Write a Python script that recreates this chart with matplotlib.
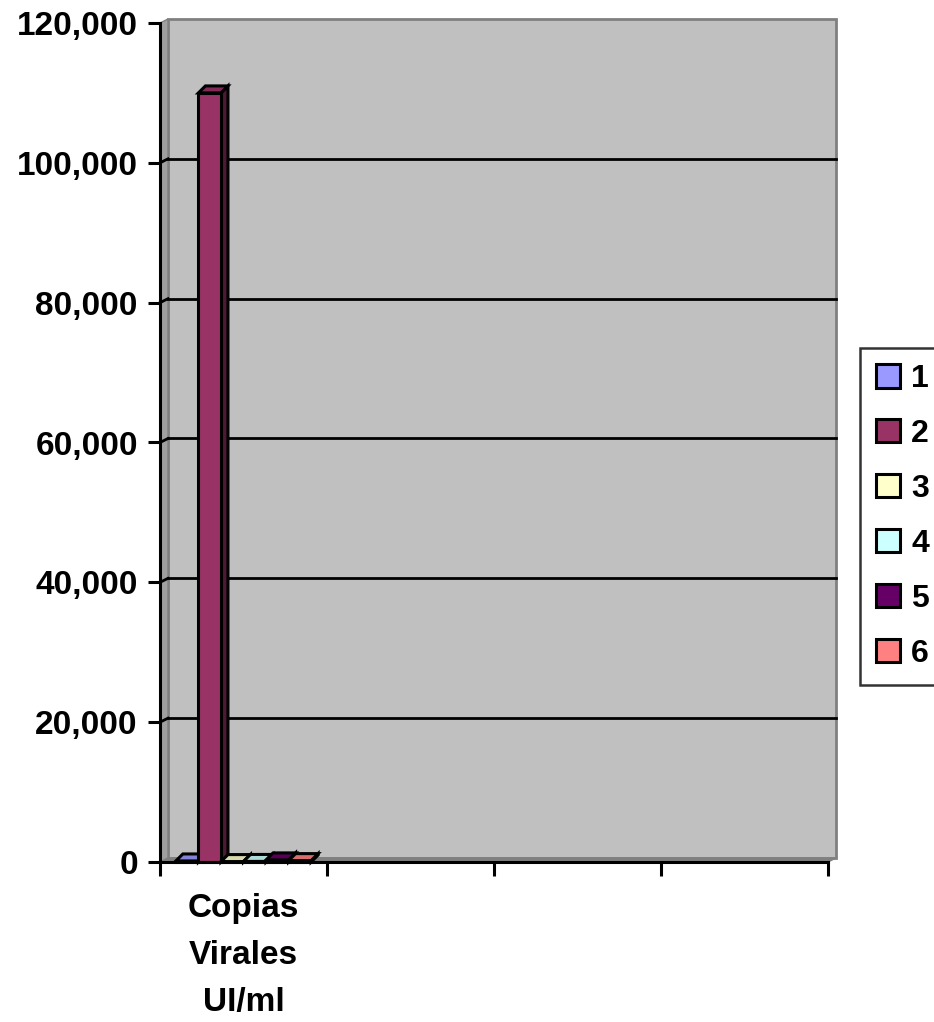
import numpy as np
import matplotlib
matplotlib.use("Agg")
import matplotlib.pyplot as plt
from matplotlib.patches import Polygon, Patch
from matplotlib.ticker import FuncFormatter

plt.rcParams['font.family'] = ['Liberation Sans', 'DejaVu Sans']
plt.rcParams['font.weight'] = 'bold'

# datos
categorias = ["Copias\nVirales\nUI/ml", "", "", ""]
series = ["1", "2", "3", "4", "5", "6"]
valores = [150, 110000, 60, 80, 300, 200]
colores = ["#9999FF", "#993366", "#FFFFCC", "#CCFFFF", "#660066", "#FF8080"]
yticks = [0, 20000, 40000, 60000, 80000, 100000, 120000]

def oscurecer(c, f):
    r, g, b = matplotlib.colors.to_rgb(c)
    return (r * f, g * f, b * f)

fig = plt.figure(figsize=(9.34, 10.22), dpi=100)
ax = fig.add_axes([160 / 934, 1 - 862 / 1022, 668 / 934, 839 / 1022])
ax.set_xlim(0, len(categorias))
ax.set_ylim(0, 120000)
ax.set_facecolor("none")

# profundidad del efecto 3d (en unidades de datos)
px_x = len(categorias) / 668.0
px_y = 120000 / 839.0
dxw, dyw = 8 * px_x, 4 * px_y   # pared
dxb, dyb = 7 * px_x, 7 * px_y   # barras
xmax = len(categorias)

# pared del fondo, pared lateral y piso
pared = Polygon([(dxw, dyw), (xmax + dxw, dyw), (xmax + dxw, 120000 + dyw), (dxw, 120000 + dyw)],
                closed=True, facecolor="#C0C0C0", edgecolor="#808080", lw=2, clip_on=False, zorder=0)
lateral = Polygon([(0, 0), (dxw, dyw), (dxw, 120000 + dyw), (0, 120000)],
                  closed=True, facecolor="#A0A0A0", edgecolor="#808080", lw=1, clip_on=False, zorder=0)
piso = Polygon([(0, 0), (xmax, 0), (xmax + dxw, dyw), (dxw, dyw)],
               closed=True, facecolor="#808080", edgecolor="#808080", lw=1, clip_on=False, zorder=0.5)
ax.add_patch(pared)
ax.add_patch(lateral)
ax.add_patch(piso)

# lineas de division
for v in yticks[1:-1]:
    ax.plot([dxw, xmax + dxw], [v + dyw, v + dyw], color="black", lw=2.0, zorder=1, clip_on=False)
    ax.plot([0, dxw], [v, v + dyw], color="black", lw=2.0, zorder=1, clip_on=False)

# barras con efecto 3d
ancho = 0.135
x_ini = 0.5 - ancho * len(series) / 2
for i, (v, c) in enumerate(zip(valores, colores)):
    x0 = x_ini + i * ancho
    lado = Polygon([(x0 + ancho, 0), (x0 + ancho + dxb, dyb), (x0 + ancho + dxb, v + dyb), (x0 + ancho, v)],
                   closed=True, facecolor=oscurecer(c, 0.5), edgecolor="black", lw=2.2, zorder=2 + i, clip_on=False)
    tapa = Polygon([(x0, v), (x0 + ancho, v), (x0 + ancho + dxb, v + dyb), (x0 + dxb, v + dyb)],
                   closed=True, facecolor=oscurecer(c, 0.85), edgecolor="black", lw=2.2, zorder=2 + i, clip_on=False)
    ax.add_patch(lado)
    ax.add_patch(tapa)
    ax.bar(x0, v, width=ancho, align="edge", color=c, edgecolor="black", lw=2.2, zorder=2 + i, clip_on=False)

# ejes
for s in ["top", "right"]:
    ax.spines[s].set_visible(False)
for s in ["left", "bottom"]:
    ax.spines[s].set_linewidth(2.2)
    ax.spines[s].set_zorder(10)
ax.spines["bottom"].set_bounds(0, xmax)

ax.set_yticks(yticks)
ax.yaxis.set_major_formatter(FuncFormatter(lambda v, p: f"{int(v):,}"))
ax.tick_params(axis="y", length=9, width=2.2, pad=7, labelsize=24)

ax.set_xticks(np.arange(len(categorias) + 1))
ax.set_xticklabels([])
ax.set_xticks(np.arange(len(categorias)) + 0.5, minor=True)
ax.set_xticklabels(categorias, minor=True, fontsize=24, linespacing=1.68)
ax.tick_params(axis="x", which="minor", length=0, pad=22)
ax.tick_params(axis="x", which="major", length=10, width=2.2)

# leyenda
handles = [Patch(facecolor=c, edgecolor="black", lw=2.2) for c in colores]
leg = fig.legend(handles, series, loc="upper left", bbox_to_anchor=(860 / 934, 1 - 348 / 1022),
                 fontsize=23, handlelength=0.75, handleheight=0.75, handletextpad=0.35,
                 labelspacing=0.78, borderpad=0.5, borderaxespad=0, frameon=True, fancybox=False)
leg.get_frame().set_edgecolor("black")
leg.get_frame().set_linewidth(1.8)

fig.savefig("out.png", dpi=100)
